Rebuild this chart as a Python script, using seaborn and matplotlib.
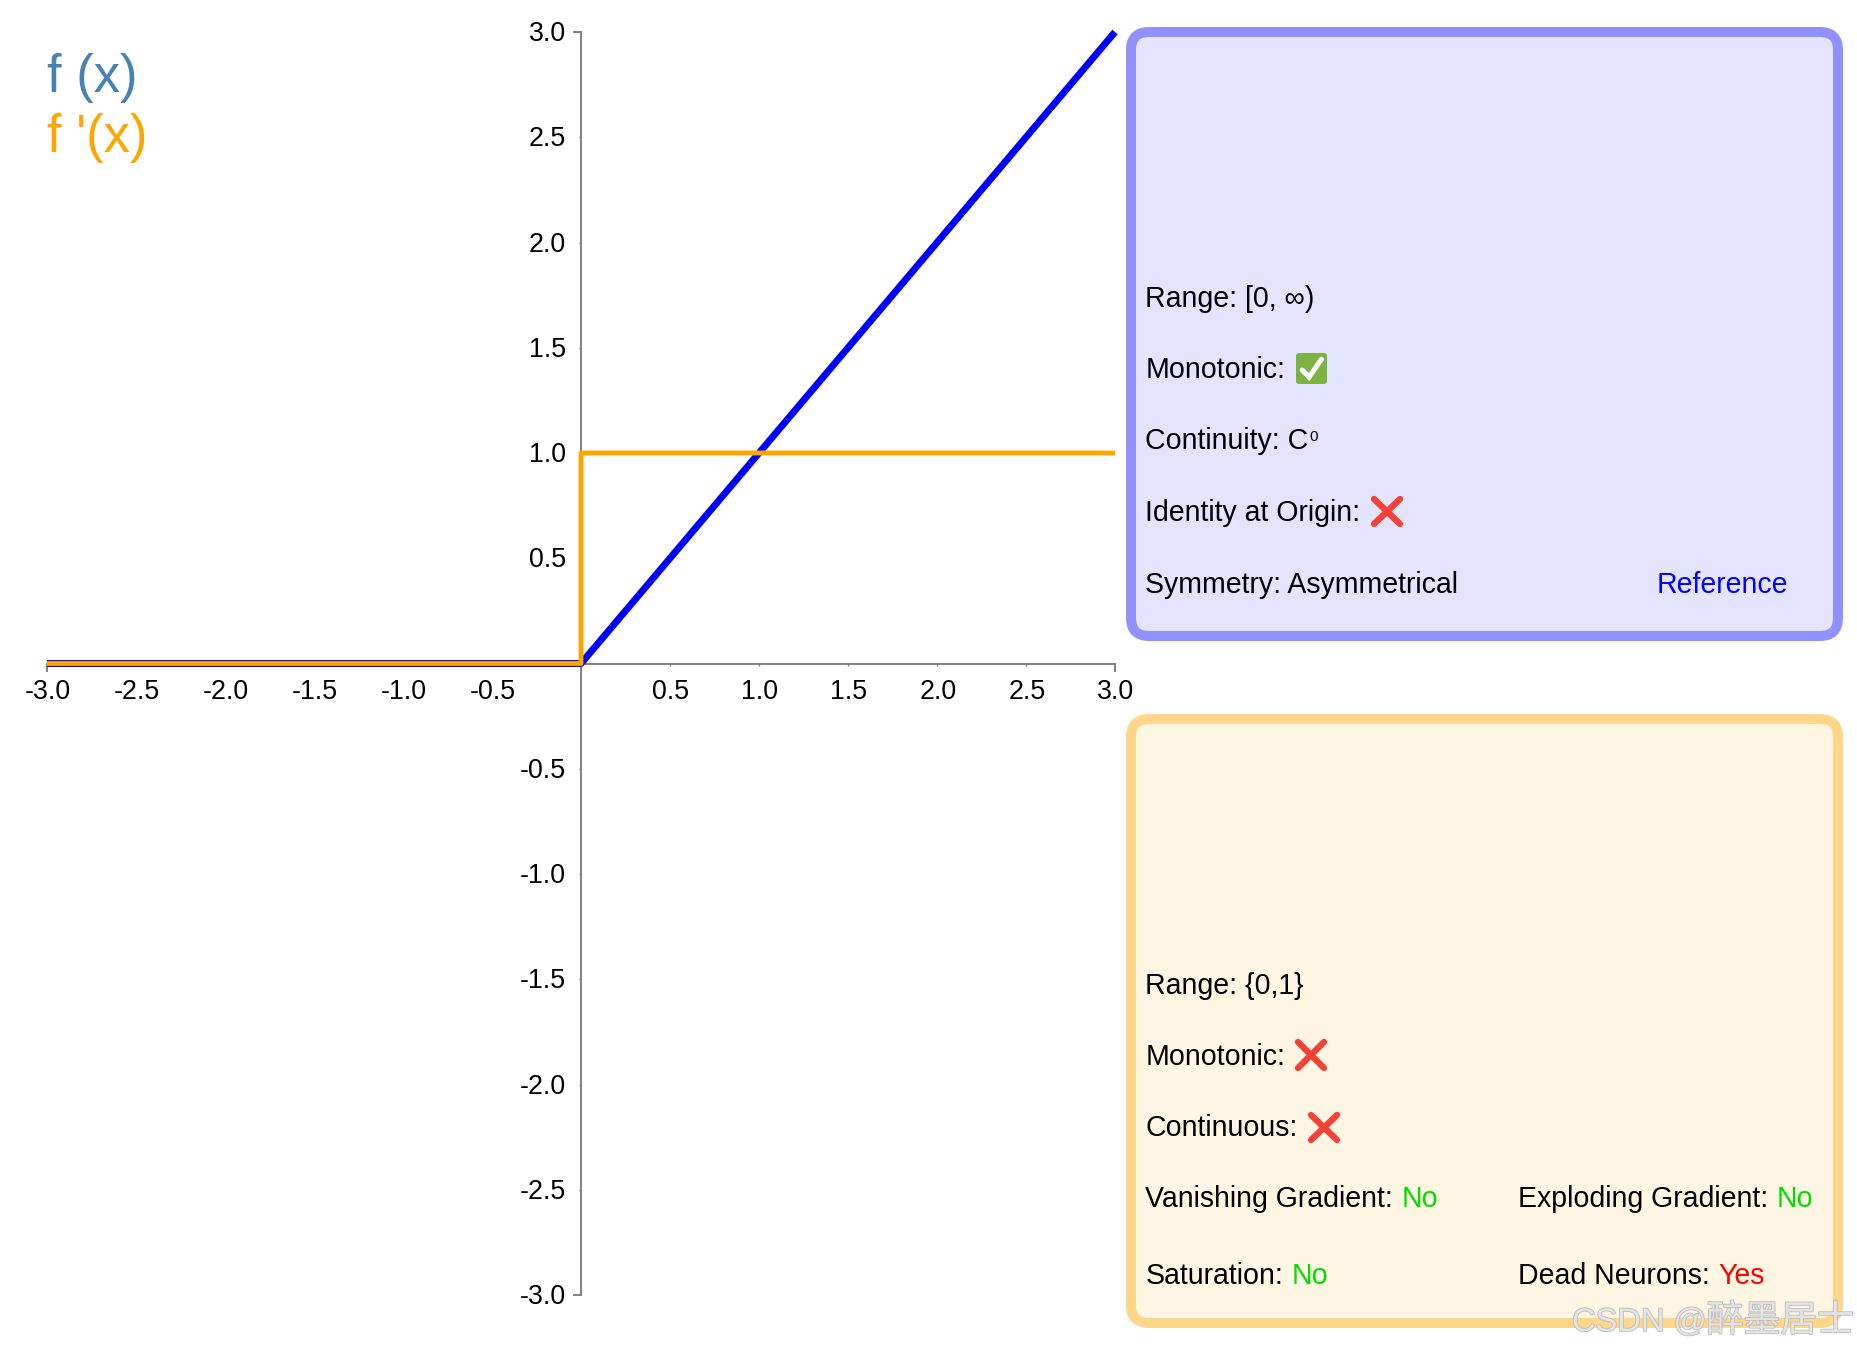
# plot.py - ReLU style activation function and its derivative, with info panels

import matplotlib
matplotlib.use("Agg")
import matplotlib.pyplot as plt
from matplotlib.patches import FancyBboxPatch
from matplotlib.patheffects import withStroke
from matplotlib.transforms import ScaledTranslation
import pandas as pd
import seaborn as sns

f_x = [-3.0, 0.0, 3.0]
f_y = [0.0, 0.0, 3.0]
df_x = [-3.0, 0.0, 0.0, 3.0]
df_y = [0.0, 0.0, 1.0, 1.0]
tick_values = [-3.0, -2.5, -2.0, -1.5, -1.0, -0.5, 0.5, 1.0, 1.5, 2.0, 2.5, 3.0]
tick_labels = ["-3.0", "-2.5", "-2.0", "-1.5", "-1.0", "-0.5", "0.5", "1.0", "1.5", "2.0", "2.5", "3.0"]

BLUE = "#0000ff"
ORANGE = "#ffa500"
GREEN = "#00dd00"
RED = "#ff0000"
W, H = 1858, 1352
TEXT_SIZE = 20.55

sns.set_theme(style="white")
plt.rcParams["font.family"] = ["Liberation Sans", "Noto Sans CJK SC", "DejaVu Sans"]

fig = plt.figure(figsize=(W / 100, H / 100), dpi=100, facecolor="white")

# ── Plot axes ────────────────────────────────────────────────────────────────
ax = fig.add_axes([47 / W, 1 - 1295 / H, (1115 - 47) / W, (1295 - 32) / H])
ax.patch.set_alpha(0)

f_data = pd.DataFrame({"x": f_x, "y": f_y})
df_data = pd.DataFrame({"x": df_x, "y": df_y})
sns.lineplot(data=f_data, x="x", y="y", sort=False, estimator=None, color=BLUE, lw=5.0,
             zorder=3, clip_on=False, ax=ax)
sns.lineplot(data=df_data, x="x", y="y", sort=False, estimator=None, color=ORANGE, lw=3.5,
             zorder=4, clip_on=False, ax=ax)
for line in ax.lines:
    line.set_snap(False)
    line.set_solid_capstyle("butt")

ax.set_xlim(-3, 3)
ax.set_ylim(-3, 3)
ax.set_xlabel("")
ax.set_ylabel("")
ax.spines[["top", "right"]].set_visible(False)
for side in ["left", "bottom"]:
    ax.spines[side].set_position("zero")
    ax.spines[side].set_color("#808080")
    ax.spines[side].set_linewidth(1.4)

ax.set_xticks(tick_values, tick_labels)
ax.set_yticks(tick_values, tick_labels)
ax.tick_params(axis="both", length=1.5, width=1, color="#808080", labelsize=19.3,
               labelcolor="black", pad=9.5, bottom=True, left=True)
for axis in [ax.xaxis, ax.yaxis]:
    for tick, value in zip(axis.get_major_ticks(), tick_values):
        if abs(value) == 3.0:
            tick.tick1line.set_markersize(6)
            tick.tick1line.set_markeredgewidth(1.4)

# tick labels sit a pixel off in the original
nudge_y = ScaledTranslation(0, 1 / 100, fig.dpi_scale_trans)
nudge_x = ScaledTranslation(1 / 100, 0, fig.dpi_scale_trans)
for tick_label in ax.get_yticklabels():
    tick_label.set_transform(tick_label.get_transform() + nudge_y)
for tick_label in ax.get_xticklabels():
    tick_label.set_transform(tick_label.get_transform() + nudge_x)

# ── Overlay in pixel coordinates for the panels and labels ───────────────────
ov = fig.add_axes([0, 0, 1, 1], zorder=5)
ov.set_xlim(0, W)
ov.set_ylim(H, 0)
ov.axis("off")


def panel(x0, y0, x1, y1, face, edge):
    # x0..y1 is the outer edge, border is 10 px wide
    ov.add_patch(FancyBboxPatch((x0 + 25, y0 + 25), x1 - x0 - 50, y1 - y0 - 50,
                                boxstyle="round,pad=20,rounding_size=18",
                                facecolor=face, edgecolor=edge, linewidth=7.2))


def label(x, y, text, value=None, value_color=None):
    t = ov.text(x, y, text, fontsize=TEXT_SIZE, color="black", va="baseline")
    if value:
        ov.annotate(value, xy=(1, 0), xycoords=t, xytext=(5.6, 0), textcoords="offset points",
                    fontsize=TEXT_SIZE, color=value_color, va="bottom")
    return t


def check_mark(x0, y0, x1, y1):
    ov.add_patch(FancyBboxPatch((x0 + 3, y0 + 3), x1 - x0 - 6, y1 - y0 - 6,
                                boxstyle="round,pad=3,rounding_size=3",
                                facecolor="#7cb342", edgecolor="none"))
    w, h = x1 - x0, y1 - y0
    ov.plot([x0 + 0.2 * w, x0 + 0.42 * w, x0 + 0.82 * w],
            [y0 + 0.55 * h, y0 + 0.78 * h, y0 + 0.2 * h],
            color="white", lw=3.6, solid_capstyle="round", solid_joinstyle="miter")


def cross_mark(x0, y0, x1, y1):
    pad = 3
    for ya, yb in [(y0 + pad, y1 - pad), (y1 - pad, y0 + pad)]:
        ov.plot([x0 + pad, x1 - pad], [ya, yb], color="#f44336", lw=4.6, solid_capstyle="round")


panel(1126, 27, 1843, 641, "#e4e4ff", "#9090ff")
panel(1126, 714, 1843, 1328, "#fff5e3", "#ffd68a")

ov.text(47, 92, "f (x)", fontsize=37.8, color="#4682b4", va="baseline")
ov.text(47, 152, "f '(x)", fontsize=37.8, color=ORANGE, va="baseline")

label(1145.5, 307, "Range: [0, ∞)")
label(1145.5, 378, "Monotonic:")
check_mark(1296, 353, 1327, 384)
c0 = label(1145.5, 449, "Continuity: C")
ov.annotate("0", xy=(1, 0), xycoords=c0, xytext=(0.8, 8), textcoords="offset points",
            fontsize=11, color="black", va="bottom")
label(1145.5, 521, "Identity at Origin:")
cross_mark(1371, 496, 1403, 527)
label(1145.5, 593, "Symmetry: Asymmetrical")
ov.text(1656.5, 593, "Reference", fontsize=TEXT_SIZE, color=BLUE, va="baseline")

label(1145.5, 994, "Range: {0,1}")
label(1145.5, 1065, "Monotonic:")
cross_mark(1295, 1039, 1327, 1071)
label(1145.5, 1136, "Continuous:")
cross_mark(1308, 1112, 1340, 1143)
label(1145.5, 1207, "Vanishing Gradient:", "No", GREEN)
label(1518.5, 1207, "Exploding Gradient:", "No", GREEN)
label(1145.5, 1284, "Saturation:", "No", GREEN)
label(1518.5, 1284, "Dead Neurons:", "Yes", RED)

# watermark: latin part is set smaller than the CJK part
halo = [withStroke(linewidth=1.2, foreground="#bdbdbd")]
wm = ov.text(1572, 1331, "CSDN @", fontsize=23.5, color="#e4e4e4", va="baseline", path_effects=halo)
ov.annotate("醉墨居士", xy=(1, 0), xycoords=wm, xytext=(0, -1), textcoords="offset points",
            fontsize=26.5, color="#e4e4e4", va="bottom", path_effects=halo)

fig.savefig("out.png", dpi=100)
